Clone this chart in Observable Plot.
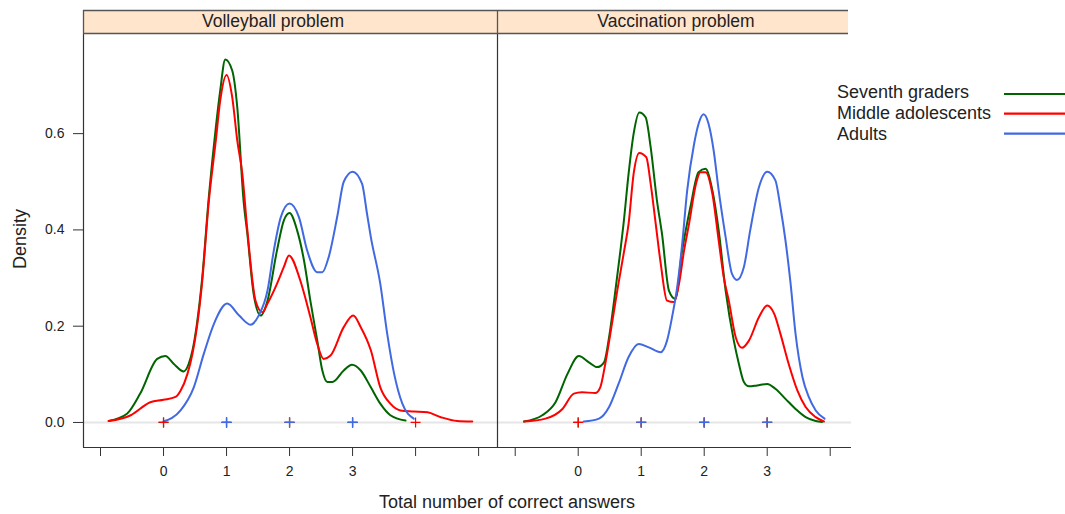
<!DOCTYPE html>
<html>
<head>
<meta charset="utf-8">
<script src="https://cdn.jsdelivr.net/npm/d3@7"></script>
<script src="https://cdn.jsdelivr.net/npm/@observablehq/plot@0.6"></script>
<style>
  body { margin: 0; background: #fff; font-family: "Liberation Sans", Arial, sans-serif; }
  #chart { position: relative; width: 1065px; height: 514px; overflow: hidden; }
  #chart > svg { position: absolute; top: 0; }
</style>
</head>
<body>
<div id="chart"></div>
<script>
// ---- categories, labels and colours ----
const problems = ["Volleyball problem", "Vaccination problem"];
const groups = ["Seventh graders", "Middle adolescents", "Adults"];
const groupColors = ["#006400", "#ff0000", "#4169e1"];
const xTicks = [-1, 0, 1, 2, 3, 4, 5];
const xTickLabels = [0, 1, 2, 3];
const yTicks = [0, 0.2, 0.4, 0.6];
const xTitle = "Total number of correct answers";
const yTitle = "Density";

// ---- kernel density estimates, [answers, density] ----
const volleyballSeventh = [[-0.87,0.003],[-0.58,0.018],[-0.37,0.060],[-0.10,0.132],[0.03,0.138],[0.16,0.122],[0.32,0.106],[0.40,0.122],[0.46,0.150],[0.53,0.205],[0.61,0.295],[0.72,0.470],[0.83,0.613],[0.90,0.690],[0.98,0.754],[1.09,0.731],[1.17,0.655],[1.27,0.461],[1.33,0.392],[1.43,0.267],[1.54,0.222],[1.65,0.253],[1.80,0.357],[1.91,0.420],[2.00,0.435],[2.12,0.399],[2.23,0.336],[2.33,0.253],[2.44,0.170],[2.52,0.108],[2.60,0.084],[2.68,0.084],[2.86,0.108],[2.99,0.120],[3.13,0.108],[3.29,0.073],[3.44,0.039],[3.60,0.015],[3.84,0.004]];
const volleyballMiddle = [[-0.87,0.003],[-0.52,0.015],[-0.21,0.042],[0.00,0.047],[0.19,0.053],[0.27,0.066],[0.38,0.101],[0.46,0.143],[0.53,0.198],[0.61,0.288],[0.72,0.461],[0.83,0.586],[0.90,0.669],[1.00,0.722],[1.09,0.676],[1.17,0.586],[1.25,0.517],[1.33,0.400],[1.46,0.253],[1.57,0.229],[1.65,0.247],[1.80,0.288],[1.91,0.323],[1.99,0.347],[2.17,0.295],[2.33,0.219],[2.44,0.163],[2.54,0.132],[2.65,0.139],[2.86,0.198],[3.01,0.222],[3.13,0.198],[3.29,0.150],[3.44,0.073],[3.60,0.039],[3.76,0.025],[3.97,0.023],[4.19,0.021],[4.40,0.011],[4.66,0.003],[4.90,0.002]];
const volleyballAdults = [[0.00,0.002],[0.27,0.025],[0.48,0.073],[0.64,0.143],[0.80,0.205],[1.01,0.247],[1.20,0.222],[1.38,0.203],[1.51,0.222],[1.65,0.274],[1.75,0.357],[1.86,0.426],[2.00,0.455],[2.15,0.426],[2.28,0.357],[2.44,0.312],[2.52,0.312],[2.62,0.343],[2.76,0.430],[2.86,0.500],[3.00,0.521],[3.15,0.496],[3.23,0.433],[3.29,0.385],[3.44,0.288],[3.55,0.184],[3.66,0.101],[3.79,0.039],[3.97,0.008]];
const vaccinationSeventh = [[-0.86,0.002],[-0.57,0.015],[-0.36,0.042],[-0.17,0.101],[0.01,0.138],[0.17,0.125],[0.30,0.115],[0.41,0.125],[0.49,0.177],[0.57,0.253],[0.67,0.357],[0.72,0.413],[0.80,0.517],[0.88,0.600],[0.97,0.644],[1.07,0.634],[1.15,0.572],[1.25,0.461],[1.33,0.392],[1.44,0.274],[1.54,0.257],[1.65,0.357],[1.78,0.447],[1.91,0.520],[2.02,0.527],[2.13,0.482],[2.23,0.399],[2.34,0.274],[2.47,0.170],[2.55,0.122],[2.63,0.084],[2.71,0.075],[2.84,0.077],[3.00,0.080],[3.13,0.070],[3.29,0.049],[3.45,0.028],[3.61,0.011],[3.77,0.003],[3.87,0.001]];
const vaccinationMiddle = [[-0.86,0.002],[-0.52,0.008],[-0.25,0.028],[-0.07,0.060],[0.06,0.063],[0.27,0.061],[0.35,0.073],[0.43,0.122],[0.51,0.184],[0.62,0.274],[0.73,0.357],[0.80,0.413],[0.88,0.517],[0.97,0.560],[1.08,0.551],[1.15,0.496],[1.23,0.413],[1.31,0.330],[1.41,0.253],[1.52,0.250],[1.60,0.288],[1.68,0.357],[1.76,0.413],[1.87,0.496],[1.94,0.520],[2.02,0.520],[2.13,0.475],[2.23,0.378],[2.31,0.302],[2.39,0.253],[2.50,0.177],[2.60,0.155],[2.71,0.170],[2.87,0.219],[3.00,0.243],[3.11,0.226],[3.21,0.184],[3.34,0.122],[3.48,0.066],[3.61,0.032],[3.77,0.011],[3.90,0.002]];
const vaccinationAdults = [[0.09,0.002],[0.33,0.008],[0.49,0.032],[0.64,0.080],[0.80,0.136],[0.96,0.163],[1.12,0.156],[1.31,0.146],[1.41,0.170],[1.49,0.219],[1.57,0.280],[1.65,0.370],[1.73,0.482],[1.84,0.579],[1.91,0.620],[1.99,0.640],[2.07,0.620],[2.15,0.565],[2.23,0.482],[2.34,0.385],[2.44,0.309],[2.52,0.296],[2.63,0.323],[2.73,0.399],[2.87,0.489],[3.00,0.521],[3.13,0.503],[3.21,0.447],[3.29,0.378],[3.37,0.290],[3.45,0.184],[3.56,0.094],[3.66,0.053],[3.77,0.025],[3.91,0.008]];

// ---- observed scores (rug of plus signs on the baseline) ----
const volleyballRug = [[0, 1, 2, 3], [0, 1, 2, 3, 4], [1, 2, 3]];
const vaccinationRug = [[0, 1, 2, 3], [0, 1, 2, 3], [1, 2, 3]];

// ---- panel geometry ----
const H = 514, panelTop = 33, panelBottom = 447, stripTop = 10;
const yDomain = [-0.052, 0.808];
const panels = [
  {title: problems[0], left: 0, width: 497, marginLeft: 83, xDomain: [-1.27, 5.30],
   curves: [volleyballSeventh, volleyballMiddle, volleyballAdults], rug: volleyballRug, yAxis: true, titleX: 273},
  {title: problems[1], left: 497, width: 354, marginLeft: 0, xDomain: [-1.281, 4.338],
   curves: [vaccinationSeventh, vaccinationMiddle, vaccinationAdults], rug: vaccinationRug, yAxis: false, titleX: 676}
];

// thin "+" glyph, as drawn by pch = 3
const plusSymbol = {
  draw(context, size) {
    const r = Math.sqrt(size) / 2;
    context.moveTo(-r, 0); context.lineTo(r, 0);
    context.moveTo(0, -r); context.lineTo(0, r);
  }
};

const chart = document.getElementById("chart");

for (const p of panels) {
  const marks = [
    Plot.ruleY([0], {stroke: "#e6e6e6", strokeWidth: 2}),
    ...p.curves.map((pts, i) =>
      Plot.line(pts, {x: d => d[0], y: d => d[1], stroke: groupColors[i], strokeWidth: 2, curve: "monotone-x"})),
    ...p.rug.map((vals, i) =>
      Plot.dot(vals, {x: d => d, y: () => 0, symbol: plusSymbol, r: 5.6, stroke: groupColors[i], fill: "none", strokeWidth: 1.2})),
    Plot.ruleX([p.xDomain[0]], {stroke: "#333", strokeWidth: 1.2}),
    Plot.ruleY([yDomain[0]], {stroke: "#333", strokeWidth: 1.2}),
    Plot.axisX(xTicks.filter(t => t >= p.xDomain[0] && t <= p.xDomain[1]), {
      tickSize: 9, tickPadding: 10, label: null, stroke: "#333", fontSize: 14, fill: "#222",
      tickFormat: d => xTickLabels.includes(d) ? String(d) : ""
    })
  ];
  if (p.yAxis) {
    marks.push(Plot.axisY(yTicks, {tickSize: 10, tickPadding: 9, label: null, stroke: "#333", fontSize: 14, fill: "#222",
      tickFormat: d => d.toFixed(1)}));
  }
  const svg = Plot.plot({
    width: p.width, height: H,
    marginLeft: p.marginLeft, marginRight: 0, marginTop: panelTop, marginBottom: H - panelBottom,
    x: {domain: p.xDomain},
    y: {domain: yDomain, axis: p.yAxis ? undefined : null},
    style: {background: "none", fontFamily: "'Liberation Sans', Arial, sans-serif", fontSize: "14px", color: "#222", overflow: "visible"},
    marks
  });
  svg.style.left = p.left + "px";
  chart.appendChild(svg);
}

// ---- strips, titles and legend ----
const overlay = d3.select(chart).append("svg")
  .attr("width", 1065).attr("height", H)
  .style("left", "0px")
  .style("font-family", "'Liberation Sans', Arial, sans-serif");

const stripRight = 848;
overlay.append("rect").attr("x", 83).attr("y", stripTop).attr("width", stripRight - 83).attr("height", panelTop - stripTop)
  .attr("fill", "#ffe5cc");
overlay.append("path")
  .attr("d", `M83,${stripTop + 0.5}H${stripRight}M83,${panelTop + 0.5}H${stripRight}M83.5,${stripTop}V${panelTop}M497.5,${stripTop}V${panelTop}`)
  .attr("stroke", "#555").attr("stroke-width", 1.3).attr("fill", "none");
overlay.selectAll("text.strip").data(panels).join("text")
  .attr("class", "strip")
  .attr("x", d => d.titleX).attr("y", 27.3)
  .attr("text-anchor", "middle").attr("font-size", 17.5).attr("fill", "#222")
  .text(d => d.title);

overlay.append("text").attr("x", 507).attr("y", 508).attr("text-anchor", "middle")
  .attr("font-size", 18).attr("fill", "#222").text(xTitle);
overlay.append("text").attr("transform", "translate(26,239) rotate(-90)").attr("text-anchor", "middle")
  .attr("font-size", 18).attr("fill", "#222").text(yTitle);

const legendBase = [97.7, 118.5, 140];
const legendLine = [94, 113.7, 133.7];
groups.forEach((g, i) => {
  overlay.append("text").attr("x", 837).attr("y", legendBase[i]).attr("font-size", 18).attr("fill", "#222").text(g);
  overlay.append("line").attr("x1", 1004).attr("x2", 1065).attr("y1", legendLine[i]).attr("y2", legendLine[i])
    .attr("stroke", groupColors[i]).attr("stroke-width", 2.2);
});
</script>
</body>
</html>
